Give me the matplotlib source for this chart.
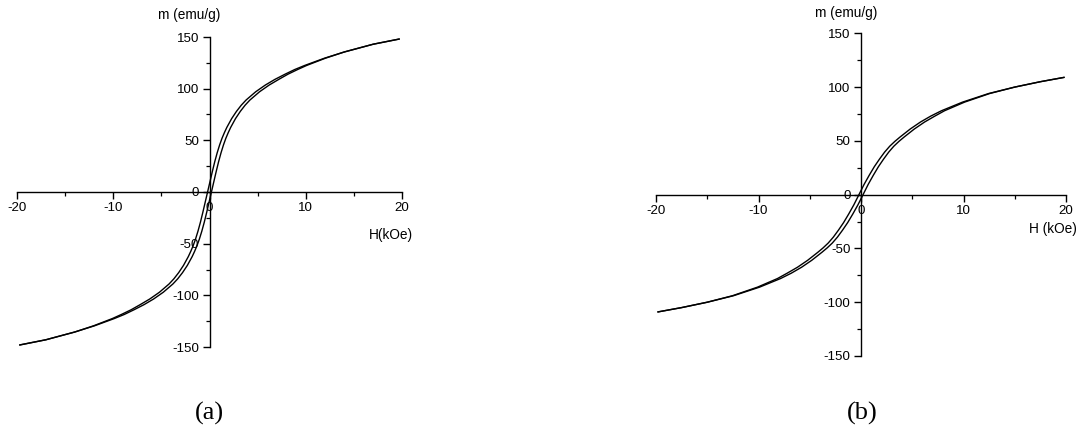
import numpy as np
import matplotlib
matplotlib.use("Agg")
import matplotlib.pyplot as plt
from matplotlib.ticker import MultipleLocator

plt.rcParams['font.family'] = ['Liberation Sans', 'DejaVu Sans']
plt.rcParams['axes.unicode_minus'] = False

# sample (a): descending branch (field swept +20 -> -20 kOe)
H_a_down = [19.7, 17, 14, 11.95, 9.9, 8.85, 7.85, 6.8, 5.8, 4.8,
            4.3, 3.8, 3.3, 2.8, 2.3, 1.8, 1.55, 1.3, 1.05, 0.8,
            0.55, 0.3, 0.05, -0.2, -0.45, -0.7, -0.95, -1.2, -1.45, -1.7,
            -1.95, -2.2, -2.7, -3.2, -3.7, -4.2, -4.7, -5.2, -6.2, -7.2,
            -8.15, -9.15, -10.1, -12.05, -14, -17, -19.7]
m_a_down = [148, 143, 135.5, 129.5, 122.5, 118.5, 114, 109, 103.5, 97,
            93, 89, 84, 78, 71, 62.5, 57.5, 52, 45.5, 38,
            29.5, 20, 10, 0, -10, -20, -29.5, -38, -45.5, -52,
            -57.5, -62.5, -71, -78, -84, -89, -93, -97, -103.5, -109,
            -114, -118.5, -122.5, -129.5, -135.5, -143, -148]
# sample (a): ascending branch (-20 -> +20 kOe)
H_a_up = [-19.7, -17, -14, -11.95, -9.9, -8.85, -7.85, -6.8, -5.8, -4.8,
          -4.3, -3.8, -3.3, -2.8, -2.3, -1.8, -1.55, -1.3, -1.05, -0.8,
          -0.55, -0.3, -0.05, 0.2, 0.45, 0.7, 0.95, 1.2, 1.45, 1.7,
          1.95, 2.2, 2.7, 3.2, 3.7, 4.2, 4.7, 5.2, 6.2, 7.2,
          8.15, 9.15, 10.1, 12.05, 14, 17, 19.7]
m_a_up = [-148, -143, -135.5, -129.5, -122.5, -118.5, -114, -109, -103.5, -97,
          -93, -89, -84, -78, -71, -62.5, -57.5, -52, -45.5, -38,
          -29.5, -20, -10, 0, 10, 20, 29.5, 38, 45.5, 52,
          57.5, 62.5, 71, 78, 84, 89, 93, 97, 103.5, 109,
          114, 118.5, 122.5, 129.5, 135.5, 143, 148]

# sample (b)
H_b_down = [19.8, 17.5, 15, 12.45, 9.9, 7.85, 6.8, 5.8, 4.8, 3.8,
            3.3, 2.8, 2.3, 1.8, 1.3, 0.8, 0.3, -0.2, -0.7, -1.2,
            -1.7, -2.2, -2.7, -3.2, -3.7, -4.2, -5.2, -6.2, -7.2, -8.15,
            -10.1, -12.55, -15, -17.5, -19.8]
m_b_down = [109, 105, 100, 94, 86, 78, 73, 67.5, 61, 53.5,
            49.5, 45, 39.5, 33, 26, 18, 9.5, 0, -9.5, -18,
            -26, -33, -39.5, -45, -49.5, -53.5, -61, -67.5, -73, -78,
            -86, -94, -100, -105, -109]
H_b_up = [-19.8, -17.5, -15, -12.45, -9.9, -7.85, -6.8, -5.8, -4.8, -3.8,
          -3.3, -2.8, -2.3, -1.8, -1.3, -0.8, -0.3, 0.2, 0.7, 1.2,
          1.7, 2.2, 2.7, 3.2, 3.7, 4.2, 5.2, 6.2, 7.2, 8.15,
          10.1, 12.55, 15, 17.5, 19.8]
m_b_up = [-109, -105, -100, -94, -86, -78, -73, -67.5, -61, -53.5,
          -49.5, -45, -39.5, -33, -26, -18, -9.5, 0, 9.5, 18,
          26, 33, 39.5, 45, 49.5, 53.5, 61, 67.5, 73, 78,
          86, 94, 100, 105, 109]

W, Hpx = 1082, 432
fig = plt.figure(figsize=(W / 100, Hpx / 100), dpi=100)


def px_axes(x0, x1, ytop, ybot):
    return fig.add_axes([x0 / W, 1 - ybot / Hpx, (x1 - x0) / W, (ybot - ytop) / Hpx])


def setup(ax):
    ax.set_xlim(-20, 20)
    ax.set_ylim(-150, 150)
    for s in ['top', 'right']:
        ax.spines[s].set_visible(False)
    ax.spines['left'].set_position(('data', 0))
    ax.spines['bottom'].set_position(('data', 0))
    for s in ['left', 'bottom']:
        ax.spines[s].set_linewidth(1.0)
    ax.xaxis.set_major_locator(MultipleLocator(10))
    ax.xaxis.set_minor_locator(MultipleLocator(5))
    ax.yaxis.set_major_locator(MultipleLocator(50))
    ax.yaxis.set_minor_locator(MultipleLocator(25))
    ax.tick_params(which='major', direction='out', length=5, width=1.0,
                   labelsize=9.6, pad=2.5)
    ax.tick_params(which='minor', direction='out', length=3, width=0.9)
    ax.patch.set_visible(False)


ax1 = px_axes(17, 402, 37, 347)
setup(ax1)
ax1.plot(H_a_down, m_a_down, color='black', lw=1.0)
ax1.plot(H_a_up, m_a_up, color='black', lw=1.0)

ax2 = px_axes(656, 1066, 33.3, 356)
setup(ax2)
ax2.plot(H_b_down, m_b_down, color='black', lw=1.0)
ax2.plot(H_b_up, m_b_up, color='black', lw=1.0)

# axis titles and panel letters
fig.text(189 / W, 1 - 15 / Hpx, 'm (emu/g)', ha='center', va='center', fontsize=9.8)
fig.text(391 / W, 1 - 235 / Hpx, 'H(kOe)', ha='center', va='center', fontsize=9.8)
fig.text(846 / W, 1 - 13 / Hpx, 'm (emu/g)', ha='center', va='center', fontsize=9.8)
fig.text(1053 / W, 1 - 229 / Hpx, 'H (kOe)', ha='center', va='center', fontsize=9.8)
fig.text(209 / W, 1 - 413 / Hpx, '(a)', ha='center', va='center', fontsize=19,
         family='Liberation Serif')
fig.text(862 / W, 1 - 413 / Hpx, '(b)', ha='center', va='center', fontsize=19,
         family='Liberation Serif')

fig.savefig('out.png', dpi=100, facecolor='white')
